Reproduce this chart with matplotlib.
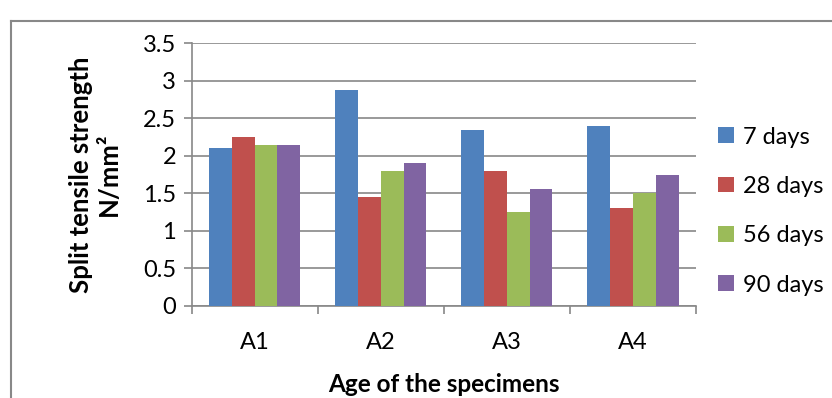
import matplotlib.pyplot as plt
import numpy as np

# Resistance a la traction par fendage selon l'age des eprouvettes
specimens = ["A1", "A2", "A3", "A4"]
ages = ["7 days", "28 days", "56 days", "90 days"]
d7 = [2.10, 2.88, 2.35, 2.40]
d28 = [2.25, 1.45, 1.80, 1.30]
d56 = [2.15, 1.80, 1.25, 1.50]
d90 = [2.15, 1.90, 1.55, 1.75]

colors = ["#4F81BD", "#C0504D", "#9BBB59", "#8064A2"]
grey = "#888888"
fs = 17

plt.rcParams['font.family'] = ['Lato', 'DejaVu Sans']

fig = plt.figure(figsize=(8.32, 3.98), dpi=100)
ax = fig.add_axes([0.2302, 0.2319, 0.6060, 0.6593])

x = np.arange(len(specimens))
w = 1 / 5.5
for i, (vals, lab) in enumerate(zip([d7, d28, d56, d90], ages)):
    ax.bar(x + (i - 1.5) * w, vals, w, color=colors[i], label=lab, zorder=3)

ax.set_xlim(-0.5, 3.5)
ax.set_ylim(0, 3.5)
ax.set_yticks(np.arange(0, 3.51, 0.5))
ax.set_yticklabels(["0", "0.5", "1", "1.5", "2", "2.5", "3", "3.5"])
ax.yaxis.grid(True, color=grey, linewidth=1.2, zorder=0)
ax.set_xticks(x)
ax.set_xticklabels(specimens)
ax.set_xticks(np.arange(-0.5, 3.6, 1), minor=True)
ax.tick_params(axis='x', which='major', length=0, pad=19, labelsize=fs)
ax.tick_params(axis='x', which='minor', length=6, color=grey, width=1.2)
ax.tick_params(axis='y', length=6, color=grey, width=1.2, labelsize=fs, pad=5)

for s in ["top", "right"]:
    ax.spines[s].set_visible(False)
for s in ["left", "bottom"]:
    ax.spines[s].set_color(grey)
    ax.spines[s].set_linewidth(1.2)

ax.set_xlabel("Age of the specimens", fontsize=17.5, fontweight="bold", labelpad=14)
ax.set_ylabel("Split tensile strength\nN/mm²", fontsize=18.5,
              fontweight="bold", labelpad=16, linespacing=1.2)

ax.legend(loc="center left", bbox_to_anchor=(697 / 832, 1 - 211 / 398),
          bbox_transform=fig.transFigure, frameon=False,
          fontsize=fs, handlelength=0.65, handleheight=0.65, labelspacing=1.2,
          handletextpad=0.4)

# cadre du graphique
fig.add_artist(plt.Line2D([11 / 832, 11 / 832], [0, 1 - 21 / 398],
                          color=grey, linewidth=1.5))
fig.add_artist(plt.Line2D([11 / 832, 1], [1 - 21 / 398, 1 - 21 / 398],
                          color=grey, linewidth=1.5))

fig.savefig("out.png", dpi=100)
